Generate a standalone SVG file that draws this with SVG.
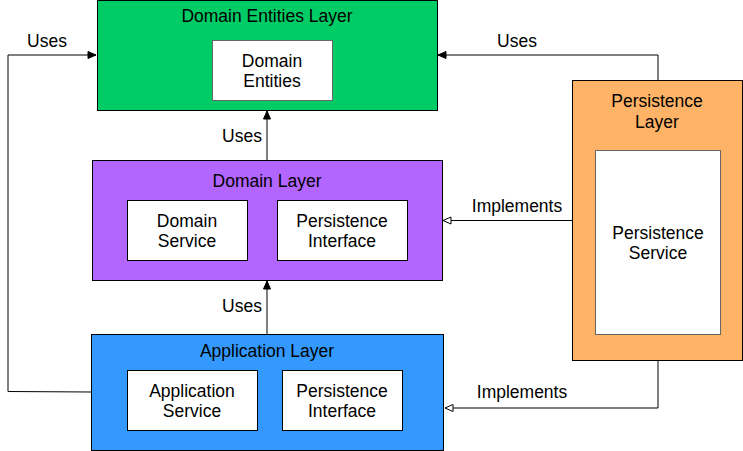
<svg xmlns="http://www.w3.org/2000/svg" width="743" height="451" viewBox="0 0 743 451">
<defs>
<style>
text{font-family:"Liberation Sans",Arial,Helvetica,sans-serif;font-size:17.5px;fill:#000;text-anchor:middle}
.layer{stroke:#000;stroke-width:1}
.inner{fill:#fff;stroke:#000;stroke-width:1}
.innerg{fill:#fff;stroke:#666;stroke-width:1}
.conn{fill:none;stroke:#000;stroke-width:1}
</style>
<marker id="filled" markerWidth="10" markerHeight="10" refX="9" refY="5" orient="auto" markerUnits="userSpaceOnUse">
<path d="M1,1.5 L9,5 L1,8.5 Z" fill="#000" stroke="#000" stroke-width="1"/>
</marker>
<marker id="open" markerWidth="10" markerHeight="10" refX="9" refY="5" orient="auto" markerUnits="userSpaceOnUse">
<path d="M1,1.5 L9,5 L1,8.5 Z" fill="#fff" stroke="#000" stroke-width="1"/>
</marker>
</defs>
<rect width="743" height="451" fill="#fff"/>

<g id="connectors">
<path class="conn" d="M267,160 L267,111" marker-end="url(#filled)"/>
<path class="conn" d="M267,334 L267,281" marker-end="url(#filled)"/>
<path class="conn" d="M91,392 L8,391.5 L8,55 L96,55" marker-end="url(#filled)"/>
<path class="conn" d="M658,80 L658,55 L438,55" marker-end="url(#filled)"/>
<path class="conn" d="M572,220.5 L443,220.5" marker-end="url(#open)"/>
<path class="conn" d="M658,360 L658,408 L445,408" marker-end="url(#open)"/>
<text x="47" y="47">Uses</text>
<text x="517" y="47">Uses</text>
<text x="242" y="142">Uses</text>
<text x="242" y="312">Uses</text>
<text x="517" y="212">Implements</text>
<text x="522" y="398">Implements</text>
</g>

<g id="domain-entities-layer">
<rect class="layer" x="97.5" y="0.5" width="340" height="110" fill="#00CC66"/>
<text x="267" y="22">Domain Entities Layer</text>
</g>
<g id="domain-entities">
<rect class="innerg" x="212.5" y="40.5" width="120" height="60"/>
<text x="272" y="67">Domain</text>
<text x="272" y="87">Entities</text>
</g>

<g id="domain-layer">
<rect class="layer" x="92.5" y="160.5" width="350" height="120" fill="#B266FF"/>
<text x="267" y="187">Domain Layer</text>
</g>
<g id="domain-service">
<rect class="inner" x="127.5" y="200.5" width="120" height="60"/>
<text x="187" y="227">Domain</text>
<text x="187" y="247">Service</text>
</g>
<g id="domain-persistence-interface">
<rect class="inner" x="277.5" y="200.5" width="130" height="60"/>
<text x="342" y="227">Persistence</text>
<text x="342" y="247">Interface</text>
</g>

<g id="application-layer">
<rect class="layer" x="91.5" y="334.5" width="352" height="116" fill="#3399FF"/>
<text x="267" y="357">Application Layer</text>
</g>
<g id="application-service">
<rect class="inner" x="127.5" y="370.5" width="130" height="60"/>
<text x="192" y="397">Application</text>
<text x="192" y="417">Service</text>
</g>
<g id="application-persistence-interface">
<rect class="inner" x="282.5" y="370.5" width="120" height="60"/>
<text x="342" y="397">Persistence</text>
<text x="342" y="417">Interface</text>
</g>

<g id="persistence-layer">
<rect class="layer" x="572.5" y="80.5" width="170" height="280" fill="#FFB366"/>
<text x="657" y="107">Persistence</text>
<text x="657" y="128">Layer</text>
</g>
<g id="persistence-service">
<rect class="innerg" x="595.5" y="150.5" width="125" height="184"/>
<text x="658" y="239">Persistence</text>
<text x="658" y="259">Service</text>
</g>
</svg>
